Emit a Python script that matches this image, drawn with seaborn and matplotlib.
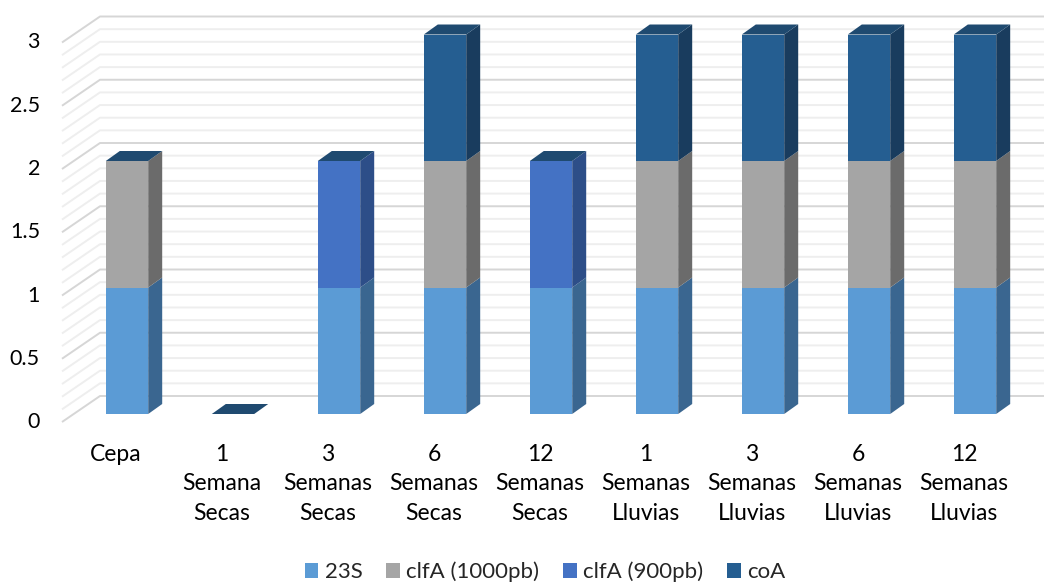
import numpy as np
import matplotlib
matplotlib.use("Agg")
import matplotlib.pyplot as plt
from matplotlib.patches import Patch
import seaborn as sns

# ---- data -------------------------------------------------------------
categories = ["Cepa",
              "1\nSemana\nSecas", "3\nSemanas\nSecas", "6\nSemanas\nSecas", "12\nSemanas\nSecas",
              "1\nSemanas\nLluvias", "3\nSemanas\nLluvias", "6\nSemanas\nLluvias", "12\nSemanas\nLluvias"]
s23 = [1, 0, 1, 1, 1, 1, 1, 1, 1]
clfa_1000 = [1, 0, 0, 1, 0, 1, 1, 1, 1]
clfa_900 = [0, 0, 1, 0, 1, 0, 0, 0, 0]
coa = [0, 0, 0, 1, 0, 1, 1, 1, 1]
series_names = ["23S", "clfA (1000pb)", "clfA (900pb)", "coA"]
y_ticks = [0, 0.5, 1, 1.5, 2, 2.5, 3]

# ---- style ------------------------------------------------------------
sns.set_style("white")
plt.rcParams["font.family"] = ["Lato", "DejaVu Sans"]
FS = 16.5
FS_TICK = 15.5
FS_LEGEND = 16

face_colors = ["#5B9BD5", "#A5A5A5", "#4472C4", "#255E91"]
side_colors = ["#3A6690", "#6B6B6B", "#2D4E88", "#193C5E"]
top_color = "#1F4A70"

fig = plt.figure(figsize=(10.44, 5.82), dpi=100)
ax = fig.add_axes([0, 0, 1, 1])

# scale: one category = 106 px, one unit = 126.5 px, baseline of bar fronts at (127, 414)
PX_CAT, PX_VAL = 106.0, 126.5
X0, Y0 = 127.0, 414.0
W, H = 1044.0, 582.0
xlim = (-X0 / PX_CAT, (W - X0) / PX_CAT)
ylim = ((Y0 - H) / PX_VAL, Y0 / PX_VAL)

# oblique depth offsets (data units)
BAR_DX, BAR_DY = 14 / PX_CAT, 10 / PX_VAL
WALL_DX, WALL_DY = 27 / PX_CAT, 18 / PX_VAL
FRONT_DX, FRONT_DY = -11 / PX_CAT, -8 / PX_VAL
LEFT = (73 - X0) / PX_CAT

# ---- floor/wall gridlines ---------------------------------------------
for k in range(31):
    v = k / 10
    major = (k % 5 == 0)
    ax.plot([LEFT + FRONT_DX, LEFT + WALL_DX, xlim[1]],
            [v + FRONT_DY, v + WALL_DY, v + WALL_DY],
            color="#D6D6D6" if major else "#EEEEEE", lw=1.4, zorder=1,
            solid_capstyle="butt")

# ---- stacked bars (front faces) ---------------------------------------
stack = [s23, clfa_1000, clfa_900, coa]
cums = np.cumsum(np.array(stack, dtype=float), axis=0)
BAR_W = 0.4
for level in range(3, -1, -1):
    sns.barplot(x=categories, y=cums[level], color=face_colors[level], width=BAR_W,
                linewidth=0, errorbar=None, saturation=1, ax=ax, zorder=3)

# ---- side and top faces -----------------------------------------------
for i in range(len(categories)):
    right = i + BAR_W / 2
    left = i - BAR_W / 2
    base = 0.0
    for level in range(4):
        h = stack[level][i]
        if h > 0:
            ax.fill([right, right + BAR_DX, right + BAR_DX, right],
                    [base, base + BAR_DY, base + h + BAR_DY, base + h],
                    color=side_colors[level], lw=0, zorder=4)
        base += h
    ax.fill([left, right, right + BAR_DX, left + BAR_DX],
            [base, base, base + BAR_DY, base + BAR_DY],
            color=top_color, lw=0, zorder=4)

# ---- axis text ---------------------------------------------------------
for t in y_ticks:
    ax.text((40 - X0) / PX_CAT, t + FRONT_DY, f"{t:g}", ha="right", va="center",
            fontsize=FS_TICK, color="#000000")
for i, cat in enumerate(categories):
    ax.text(i + FRONT_DX, (Y0 - 444) / PX_VAL, cat, ha="center", va="top",
            fontsize=FS, linespacing=1.5, color="#000000")

ax.set_xlim(*xlim)
ax.set_ylim(*ylim)
ax.axis("off")

handles = [Patch(facecolor=c, edgecolor="none", label=n) for c, n in zip(face_colors, series_names)]
fig.legend(handles=handles, loc="center", bbox_to_anchor=(0.522, 1 - 572 / H), ncol=4,
           frameon=False, fontsize=FS_LEGEND, handlelength=0.62, handleheight=0.62,
           handletextpad=0.3, columnspacing=1.05)

fig.savefig("out.png", dpi=100)
